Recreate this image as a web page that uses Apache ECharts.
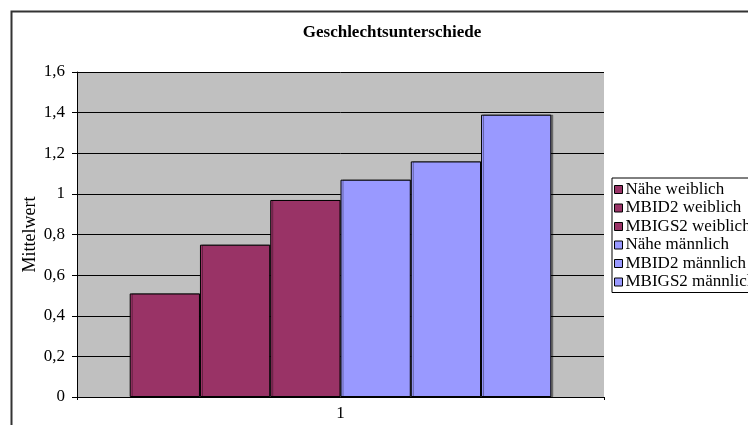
<!DOCTYPE html>
<html>
<head>
<meta charset="utf-8">
<style>
  html, body { margin: 0; padding: 0; background: #fff; }
  #chart { width: 748px; height: 425px; }
</style>
<script src="https://cdn.jsdelivr.net/npm/echarts@6/dist/echarts.min.js"></script>
</head>
<body>
<div id="chart"></div>
<script>
// Mean values by group and gender
const categories = ['1'];
const seriesNames = ['Nähe weiblich', 'MBID2 weiblich', 'MBIGS2 weiblich',
                     'Nähe männlich', 'MBID2 männlich', 'MBIGS2 männlich'];
const seriesValues = [0.51, 0.75, 0.97, 1.07, 1.16, 1.39];
const seriesColors = ['#993366', '#993366', '#993366', '#9999FF', '#9999FF', '#9999FF'];
const yTicks = [0, 0.2, 0.4, 0.6, 0.8, 1, 1.2, 1.4, 1.6];

const FONT = '"Liberation Serif", "Times New Roman", serif';
const fmt = v => String(v).replace('.', ',');

const chart = echarts.init(document.getElementById('chart'), null, { renderer: 'canvas' });

chart.setOption({
  animation: false,
  backgroundColor: '#fff',
  textStyle: { fontFamily: FONT, color: '#000' },
  title: {
    text: 'Geschlechtsunterschiede',
    left: 387, top: 19, textAlign: 'center',
    textStyle: { fontFamily: FONT, fontSize: 17, fontWeight: 'bold', color: '#000' }
  },
  graphic: [{
    type: 'rect', z: -10, silent: true,
    shape: { x: 11.5, y: 11.5, width: 800, height: 500 },
    style: { fill: 'none', stroke: '#333', lineWidth: 2 }
  }],
  legend: {
    orient: 'vertical',
    left: 612, top: 178,
    itemWidth: 8, itemHeight: 8, itemGap: 1.5,
    padding: [3, 40, 2, 2],
    borderColor: '#000', borderWidth: 1, backgroundColor: '#fff',
    icon: 'rect',
    textStyle: { fontFamily: FONT, fontSize: 17, lineHeight: 17, color: '#000', padding: [0, 0, 0, -2] },
    data: seriesNames.map((n, i) => ({
      name: n,
      itemStyle: { color: seriesColors[i], borderColor: '#000', borderWidth: 1 }
    }))
  },
  grid: { left: 77, right: 144, top: 72, bottom: 28, containLabel: false,
          show: true, backgroundColor: '#C0C0C0', borderWidth: 0 },
  xAxis: {
    type: 'category', data: categories,
    axisLine: { lineStyle: { color: '#000', width: 1 } },
    axisTick: { show: true, alignWithLabel: false, length: 3, lineStyle: { color: '#000' } },
    axisLabel: { fontFamily: FONT, fontSize: 17, color: '#000', margin: 8 }
  },
  yAxis: {
    type: 'value', min: 0, max: 1.6, interval: 0.2,
    name: 'Mittelwert', nameLocation: 'middle', nameGap: 38, nameRotate: 90,
    nameMoveOverlap: false,
    nameTextStyle: { fontFamily: FONT, fontSize: 18, color: '#000' },
    axisLine: { show: true, lineStyle: { color: '#000', width: 1 } },
    axisTick: { show: true, length: 5, lineStyle: { color: '#000' } },
    axisLabel: { fontFamily: FONT, fontSize: 17, color: '#000', margin: 12,
                 formatter: v => fmt(+v.toFixed(1)) },
    splitLine: { show: true, lineStyle: { color: '#000', width: 1 } }
  },
  series: seriesNames.map((n, i) => ({
    name: n,
    type: 'bar',
    data: [seriesValues[i]],
    barGap: '0%',
    barCategoryGap: '20%',
    itemStyle: {
      color: seriesColors[i], borderColor: '#000', borderWidth: 1,
      shadowColor: 'rgba(0,0,0,0.35)', shadowOffsetX: 2, shadowOffsetY: 0, shadowBlur: 0
    }
  }))
});
</script>
</body>
</html>
